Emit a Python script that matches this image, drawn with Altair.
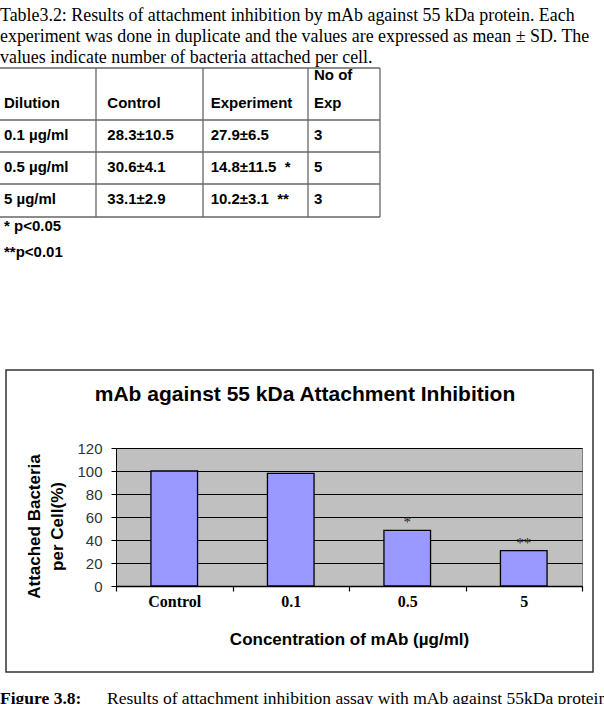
import altair as alt
import pandas as pd

# ---------------- data ----------------
categories = ["Control", "0.1", "0.5", "5"]
attached_pct = [100, 98, 48.4, 30.8]
significance = ["", "", "*", "**"]

table_headers = ["Dilution", "Control", "Experiment", "Exp"]
dilutions = ["0.1 µg/ml", "0.5 µg/ml", "5 µg/ml"]
control_vals = ["28.3±10.5", "30.6±4.1", "33.1±2.9"]
experiment_vals = ["27.9±6.5", "14.8±11.5\u00a0\u00a0*", "10.2±3.1\u00a0\u00a0**"]
n_exp = ["3", "5", "3"]
footnotes = ["* p<0.05", "**p<0.01"]

intro_lines = [
    "Table3.2: Results of attachment inhibition by mAb against 55 kDa protein. Each",
    "experiment was done in duplicate and the values are expressed as mean ± SD. The",
    "values indicate number of bacteria attached per cell.",
]
chart_title = "mAb against 55 kDa Attachment Inhibition"
y_title = ["Attached Bacteria", "per Cell(%)"]
x_title = "Concentration of mAb (µg/ml)"
caption_label = "Figure 3.8:"
caption_text = "Results of attachment inhibition assay with mAb against 55kDa protein"

# ---------------- layout ----------------
OX, OY = 116, 448          # plot-area origin on the page
W, H = 466, 138            # plot-area size


def px(x):
    return x - OX


def py(y):
    return y - OY


one = pd.DataFrame({"k": [0]})

bars_df = pd.DataFrame({"cat": categories, "pct": attached_pct, "sig": significance})

x_enc = alt.X(
    "cat:N",
    sort=categories,
    scale=alt.Scale(domain=categories, paddingInner=0, paddingOuter=0),
    axis=alt.Axis(
        title=x_title, labelAngle=0, labelFont="Liberation Serif", labelFontWeight="bold",
        labelFontSize=16, labelColor="black", labelPadding=2, tickBand="extent",
        tickSize=5, tickColor="black", tickWidth=1.2, domainColor="black", domainWidth=1.3,
        titleFont="Liberation Sans", titleFontWeight="bold", titleFontSize=17,
        titleColor="black", titleY=53, titleBaseline="middle", grid=False,
    ),
)
y_enc = alt.Y(
    "pct:Q",
    scale=alt.Scale(domain=[0, 120], nice=False),
    axis=alt.Axis(
        title=y_title, values=[0, 20, 40, 60, 80, 100, 120], grid=True, gridColor="black",
        gridWidth=1, gridOpacity=1, tickSize=5, tickColor="black", domainColor="black",
        labelFont="Liberation Sans", labelFontSize=15, labelColor="#333", labelPadding=9,
        labelOverlap=False,
        titleFont="Liberation Sans", titleFontWeight="bold", titleFontSize=17,
        titleColor="black", titleAngle=270, titleX=px(34), titleY=py(526),
        titleBaseline="middle", titleAlign="center", titleLineHeight=23,
    ),
)

bars = alt.Chart(bars_df).mark_bar(
    color="#9999FF", stroke="black", strokeWidth=1.3, width=alt.RelativeBandSize(0.4)
).encode(x=x_enc, y=y_enc)

stars = alt.Chart(bars_df).mark_text(
    font="Liberation Serif", fontSize=15, baseline="alphabetic", dy=-3, color="#222"
).encode(x=x_enc, y=y_enc, text="sig:N")

core = alt.layer(bars, stars)

# ---- table ----
rows = [table_headers] + [list(r) for r in zip(dilutions, control_vals, experiment_vals, n_exp)]
tbl = pd.DataFrame(
    [{"row": ri, "col": ci, "label": v} for ri, r in enumerate(rows) for ci, v in enumerate(r)]
)
table_text = alt.Chart(tbl).mark_text(
    align="left", baseline="middle", font="Liberation Sans", fontWeight="bold",
    fontSize=15, color="black",
).encode(
    x=alt.X("col:Q", scale=alt.Scale(domain=[0, 3], range=[px(4), px(314)], nice=False, zero=False), axis=None),
    y=alt.Y("row:Q", scale=alt.Scale(domain=[0, 3], range=[py(103), py(199)], nice=False, zero=False), axis=None),
    text="label:N",
)

text_style = dict(font="Liberation Sans", fontWeight="bold", fontSize=15, color="black", align="left")
no_of = alt.Chart(one).mark_text(baseline="middle", **text_style).encode(
    x=alt.value(px(314)), y=alt.value(py(75)), text=alt.value("No of"))
foot = alt.Chart(one).mark_text(baseline="alphabetic", lineHeight=26, **text_style).encode(
    x=alt.value(px(4)), y=alt.value(py(231)), text=alt.value(footnotes))

grid_layers = []
for yy in [68, 120, 152, 184, 217]:
    grid_layers.append(alt.Chart(one).mark_rule(color="#666", strokeWidth=1.3).encode(
        x=alt.value(px(0)), x2=alt.value(px(380)), y=alt.value(py(yy))))
for xx in [96, 203, 308, 380]:
    grid_layers.append(alt.Chart(one).mark_rule(color="#666", strokeWidth=1.3).encode(
        x=alt.value(px(xx)), y=alt.value(py(68)), y2=alt.value(py(217))))

intro = alt.Chart(one).mark_text(
    align="left", baseline="alphabetic", font="Liberation Serif", fontSize=17.9,
    lineHeight=21, color="black",
).encode(x=alt.value(px(0)), y=alt.value(py(21)), text=alt.value(intro_lines))

frame = alt.Chart(one).mark_rect(filled=False, stroke="#333", strokeWidth=1.5).encode(
    x=alt.value(px(6)), x2=alt.value(px(593)), y=alt.value(py(370)), y2=alt.value(py(672)))

title = alt.Chart(one).mark_text(
    align="center", baseline="middle", font="Liberation Sans", fontWeight="bold",
    fontSize=21, color="black",
).encode(x=alt.value(px(305)), y=alt.value(py(395)), text=alt.value(chart_title))

cap1 = alt.Chart(one).mark_text(
    align="left", baseline="alphabetic", font="Liberation Serif", fontWeight="bold",
    fontSize=17.5, color="black",
).encode(x=alt.value(px(0)), y=alt.value(py(704)), text=alt.value(caption_label))
cap2 = alt.Chart(one).mark_text(
    align="left", baseline="alphabetic", font="Liberation Serif",
    fontSize=17.5, color="black",
).encode(x=alt.value(px(107)), y=alt.value(py(704)), text=alt.value(caption_text))

chart = alt.layer(
    frame, title, core, intro, *grid_layers, table_text, no_of, foot, cap1, cap2
).resolve_scale(x="independent", y="independent").properties(
    width=W, height=H,
    autosize=alt.AutoSizeParams(type="none"),
    padding={"left": OX, "top": OY, "right": 604 - OX - W, "bottom": 704 - OY - H},
    background="white",
).configure_view(fill="#C0C0C0", stroke="#808080")

chart.save("out.html", embed_options={"renderer": "svg", "actions": False})
